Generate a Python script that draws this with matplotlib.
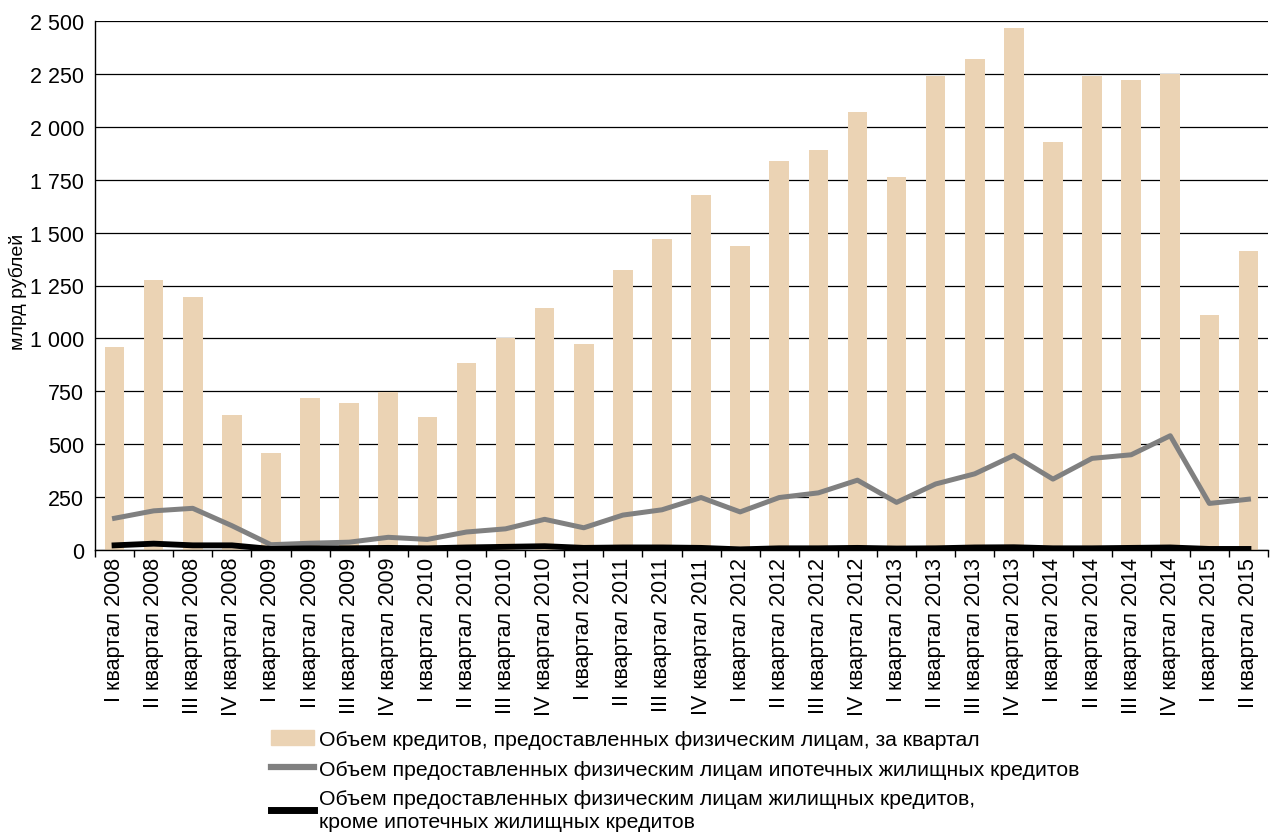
import numpy as np
import matplotlib
matplotlib.use("Agg")
import matplotlib.pyplot as plt
from matplotlib.patches import Patch
from matplotlib.lines import Line2D
from matplotlib.ticker import FuncFormatter

plt.rcParams['font.family'] = ['Liberation Sans', 'DejaVu Sans']

quarters = ['I', 'II', 'III', 'IV']
labels = [f'{q} квартал {y}' for y in range(2008, 2016) for q in quarters][:30]

total_loans = [960, 1275, 1195, 640, 460, 720, 695, 745, 630, 885,
               1000, 1145, 975, 1325, 1470, 1680, 1435, 1840, 1890, 2070,
               1765, 2240, 2320, 2465, 1930, 2240, 2220, 2250, 1110, 1415]
mortgage = [150, 185, 197, 115, 25, 32, 37, 60, 50, 85,
            100, 145, 105, 165, 190, 248, 180, 248, 270, 330,
            225, 312, 360, 447, 335, 433, 450, 540, 220, 240]
housing_other = [22, 30, 22, 22, 5, 8, 8, 10, 8, 12,
                 15, 18, 10, 12, 12, 10, 3, 8, 8, 10,
                 7, 8, 12, 13, 8, 8, 10, 12, 5, 5]

bar_color = '#EBD3B4'
gray = '#808080'

fig = plt.figure(figsize=(12.74, 8.37), dpi=100)
ax = fig.add_axes([95 / 1274, 1 - 551 / 837, (1268 - 95) / 1274, (551 - 22) / 837])

x = np.arange(len(labels))
ax.bar(x, total_loans, width=0.5, color=bar_color, zorder=2)
ax.plot(x, mortgage, color=gray, lw=3.6, zorder=3)
ax.plot(x, housing_other, color='black', lw=4.2, zorder=4)

ax.set_xlim(-0.5, len(labels) - 0.5)
ax.set_ylim(0, 2500)
ax.set_yticks(np.arange(0, 2501, 250))
ax.yaxis.set_major_formatter(FuncFormatter(lambda v, p: f'{int(v):,}'.replace(',', ' ')))
ax.grid(axis='y', color='black', lw=0.9, zorder=1)
ax.tick_params(axis='y', length=0, labelsize=15.5, pad=8)

ax.set_xticks(np.arange(-0.5, len(labels), 1))
ax.set_xticklabels([])
ax.tick_params(axis='x', which='major', length=5, direction='out', width=1)
ax.set_xticks(x, minor=True)
ax.set_xticklabels(labels, minor=True, rotation=90, fontsize=15.5)
ax.tick_params(axis='x', which='minor', length=0, pad=5)

for s in ['top', 'right']:
    ax.spines[s].set_visible(False)
ax.spines['left'].set_linewidth(1)
ax.spines['bottom'].set_linewidth(1)

fig.text(18 / 1274, 1 - 292 / 837, 'млрд рублей', fontsize=14, rotation=90,
         ha='center', va='center')

handles = [Patch(color=bar_color),
           Line2D([], [], color=gray, lw=4.5),
           Line2D([], [], color='black', lw=5)]
names = ['Объем кредитов, предоставленных физическим лицам, за квартал',
         'Объем предоставленных физическим лицам ипотечных жилищных кредитов',
         'Объем предоставленных физическим лицам жилищных кредитов,\nкроме ипотечных жилищных кредитов']
leg = fig.legend(handles, names, loc='upper left', bbox_to_anchor=(271 / 1274, 1 - 731 / 837),
                 frameon=False, handlelength=2.0, handletextpad=0.25,
                 labelspacing=0.5, borderaxespad=0, borderpad=0,
                 prop={'family': ['Liberation Sans', 'DejaVu Sans'], 'size': 15.3})
leg.get_texts()[2].set_linespacing(1.25)

fig.savefig('out.png', dpi=100)
